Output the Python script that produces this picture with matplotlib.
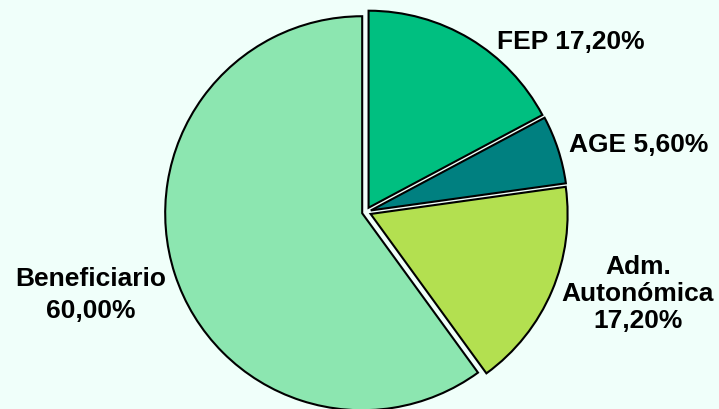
import matplotlib.pyplot as plt

plt.rcParams["font.family"] = ["Liberation Sans", "DejaVu Sans"]

# data
labels = ["FEP", "AGE", "Adm.\nAutonómica", "Beneficiario"]
values = [17.2, 5.6, 17.2, 60.0]
colors = ["#00BF80", "#008080", "#B3E050", "#8CE6B0"]
explode = [5, 5, 5, 4]  # offsets in pixel units (axes use pixel-like coords)

bg = "#F0FFFA"
fig = plt.figure(figsize=(7.19, 4.10), dpi=100, facecolor=bg)
ax = fig.add_axes([0, 0, 1, 1])
ax.set_facecolor(bg)

# pie drawn in pixel-like units
cx, cy, r = 366, 197, 197
ax.pie(values, colors=colors, startangle=90, counterclock=False,
       explode=explode, center=(cx, cy), radius=r,
       wedgeprops=dict(edgecolor="black", linewidth=1.5))
ax.set_xlim(0, 719)
ax.set_ylim(0, 410)
ax.set_aspect("equal")
ax.axis("off")

# labels
fs = 19
ax.text(571, 410 - 42, "FEP 17,20%", ha="center", va="center",
        fontsize=fs, fontweight="bold")
ax.text(639, 410 - 145, "AGE 5,60%", ha="center", va="center",
        fontsize=fs, fontweight="bold")
ax.text(638, 410 - 294, "Adm.\nAutonómica\n17,20%", ha="center", va="center",
        fontsize=fs, fontweight="bold", linespacing=1.15)
ax.text(91, 410 - 295, "Beneficiario\n60,00%", ha="center", va="center",
        fontsize=fs, fontweight="bold", linespacing=1.4)

plt.savefig("out.png", dpi=100, facecolor=bg)
plt.close()
